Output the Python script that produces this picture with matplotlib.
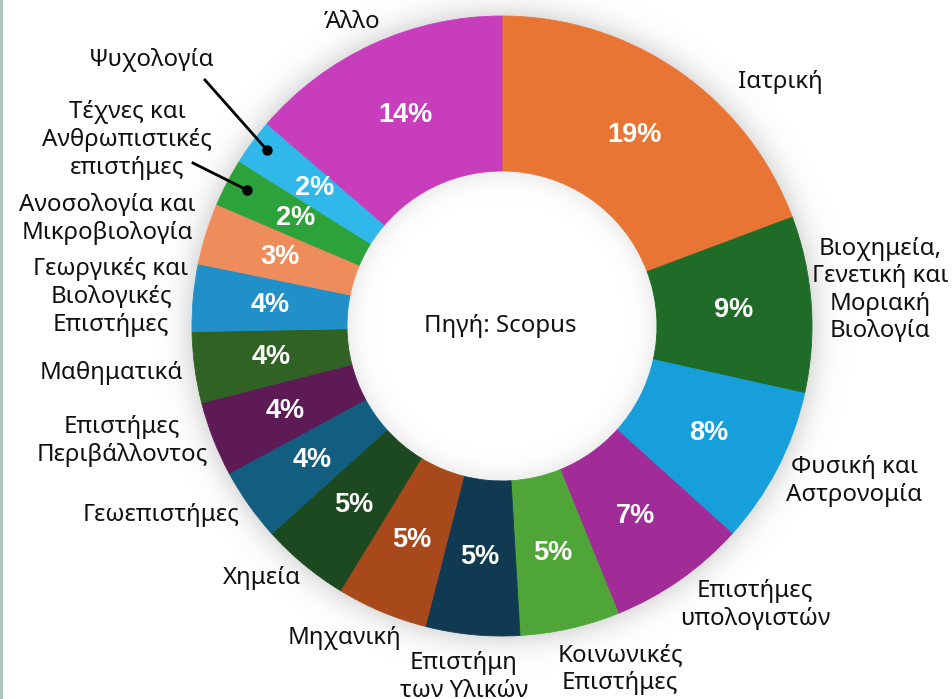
import numpy as np
import matplotlib
matplotlib.use("Agg")
import matplotlib.pyplot as plt
from matplotlib.lines import Line2D

# ---------------- data ----------------
categories = [
    "Ιατρική",
    "Βιοχημεία,\nΓενετική και\nΜοριακή\nΒιολογία",
    "Φυσική και\nΑστρονομία",
    "Επιστήμες\nυπολογιστών",
    "Κοινωνικές\nΕπιστήμες",
    "Επιστήμη\nτων Υλικών",
    "Μηχανική",
    "Χημεία",
    "Γεωεπιστήμες",
    "Επιστήμες\nΠεριβάλλοντος",
    "Μαθηματικά",
    "Γεωργικές και\nΒιολογικές\nΕπιστήμες",
    "Ανοσολογία και\nΜικροβιολογία",
    "Τέχνες και\nΑνθρωπιστικές\nεπιστήμες",
    "Ψυχολογία",
    "Άλλο",
]
shares = [19.3, 9.2, 8.2, 7.2, 5.2, 4.9, 4.75, 4.6, 3.8, 3.9, 3.7, 3.5, 3.2, 2.5, 2.4, 13.7]
pct_labels = ["19%", "9%", "8%", "7%", "5%", "5%", "5%", "5%", "4%", "4%", "4%", "4%", "3%", "2%", "2%", "14%"]
colors = ["#E97534", "#1F6B28", "#169FDA", "#A22C97", "#4FA537", "#0F3A51", "#A7491B",
          "#1C4920", "#125E80", "#5E1A55", "#2F6223", "#2290C8", "#EE8C5B", "#2EA23A",
          "#2FB8E9", "#C83DBC"]
center_text = "Πηγή: Scopus"

# ---------------- layout ----------------
W, H = 953, 699
fig = plt.figure(figsize=(W / 100, H / 100), dpi=100)
ax = fig.add_axes([0, 0, 1, 1])

def P(x, y):
    return (x, H - y)

cx, cy = P(502, 326)
R = 310
ring = 155

# soft shadow around the ring
yy, xx = np.mgrid[0:H, 0:W]
d = np.hypot(xx + 0.5 - cx, (H - yy - 0.5) - cy)
alpha = np.zeros_like(d)
out = d > R
alpha[out] = 0.22 * np.exp(-((d[out] - R) / 14.0) ** 1.3)
inn = d < R - ring
alpha[inn] = 0.12 * np.exp(-(((R - ring) - d[inn]) / 12.0) ** 1.3)
img = np.zeros((H, W, 4))
img[..., 0:3] = 0.45
img[..., 3] = alpha
ax.imshow(img, extent=(0, W, 0, H), origin="upper", zorder=0, interpolation="bilinear")

wedges, _, autotexts = ax.pie(
    shares, radius=R, center=(cx, cy), startangle=90, counterclock=False,
    colors=colors, labels=None,
    autopct=lambda p: "", pctdistance=0.75,
    wedgeprops=dict(width=ring, linewidth=0.6, antialiased=True),
)
for w, c in zip(wedges, colors):
    w.set_edgecolor(c)
    w.set_zorder(2)
for t, s in zip(autotexts, pct_labels):
    t.set_text(s)
    t.set_color("white")
    t.set_fontsize(19.5)
    t.set_fontweight("bold")
    t.set_fontfamily("Liberation Sans")
    t.set_zorder(3)

ax.set_xlim(0, W)
ax.set_ylim(0, H)
ax.set_aspect("equal")
ax.axis("off")

label_font = dict(fontfamily="Noto Sans", fontsize=17.3, fontweight="medium", color="#111111",
                  ha="center", va="center", linespacing=1.2)

# outer label anchor positions (pixel coords of the text block centres)
label_pos = [
    (780, 82), (880, 290), (854, 481), (755, 605), (620, 669), (464, 677),
    (345, 638), (262, 578), (161, 515), (122, 441), (111, 373), (111, 297),
    (107, 219), (127, 140), (152, 60), (352, 22),
]
for name, (x, y) in zip(categories, label_pos):
    ax.text(*P(x, y), name, **label_font)

# leader lines for the two thin slices
for (x0, y0), (x1, y1) in [((205, 80), (267, 150)), ((193, 163), (247, 190))]:
    ax.add_line(Line2D([P(x0, y0)[0], P(x1, y1)[0]], [P(x0, y0)[1], P(x1, y1)[1]],
                       color="black", lw=2.0, zorder=4))
    ax.plot(*P(x1, y1), "o", color="black", ms=6.5, zorder=5)

ax.text(*P(500, 326), center_text, **label_font)

# thin border on the left edge
ax.add_line(Line2D([1, 1], [0, H], color="#A9BEB8", lw=2.0, zorder=6))

fig.savefig("out.png", dpi=100, facecolor="white")
